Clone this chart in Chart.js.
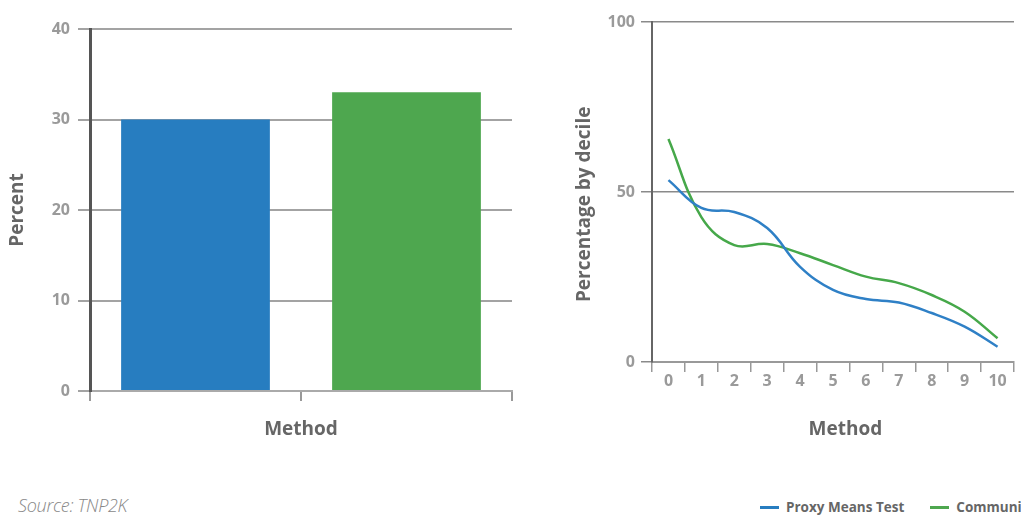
<!DOCTYPE html>
<html>
<head>
<meta charset="utf-8">
<script src="https://cdn.jsdelivr.net/npm/chart.js@4.4.0/dist/chart.umd.min.js"></script>
<style>
  body { margin: 0; width: 1021px; height: 517px; overflow: hidden; background: #fff; position: relative; font-family: "Open Sans", sans-serif; }
  .box { position: absolute; top: 0; }
  #source { position: absolute; left: 18px; top: 493px; font-style: italic; font-weight: 300; font-size: 18px; color: #888; letter-spacing: -0.3px; }
  #legend { position: absolute; left: 760px; top: 498px; white-space: nowrap; font-weight: 700; font-size: 13.5px; color: #666; }
  #legend span.item { display: inline-block; margin-right: 26px; }
  #legend i { display: inline-block; width: 19px; height: 3px; margin-right: 7px; vertical-align: middle; position: relative; top: -1px; }
</style>
</head>
<body>
<div class="box" style="left:0"><canvas id="barChart" width="545" height="460"></canvas></div>
<div class="box" style="left:560px"><canvas id="lineChart" width="461" height="460"></canvas></div>
<div id="source">Source: TNP2K</div>
<div id="legend"></div>

<script>
// data
const methods = ["Proxy Means Test", "Community"];
const methodColors = ["#277dc0", "#4ea74f"];
const percentByMethod = [30, 33];

const deciles = ["0", "1", "2", "3", "4", "5", "6", "7", "8", "9", "10"];
const pmtByDecile = [53.5, 45.3, 44.1, 39.4, 28, 21.2, 18.5, 17.5, 14.4, 10.4, 4.5];
const communityByDecile = [65.6, 42.6, 34.4, 34.7, 32, 28.5, 25.1, 23.2, 19.7, 14.8, 7];

const tickFont = { family: "Open Sans", weight: "bold", size: 16 };
const titleFont = { family: "Open Sans", weight: "bold", size: 19 };
const tickColor = "#9a9a9a";
const titleColor = "#666";

// left: bar chart
new Chart(document.getElementById("barChart"), {
    type: "bar",
    data: {
        labels: methods,
        datasets: [{
            data: percentByMethod,
            backgroundColor: methodColors,
            categoryPercentage: 1,
            barPercentage: 0.705
        }]
    },
    options: {
        responsive: false,
        animation: false,
        layout: { padding: { top: 29, right: 33, left: 0, bottom: 0 } },
        plugins: { legend: { display: false }, tooltip: { enabled: false } },
        scales: {
            x: {
                offset: true,
                grid: { offset: true, drawOnChartArea: false, tickLength: 10, color: "#999", lineWidth: 2 },
                border: { color: "#aaa", width: 2 },
                ticks: { display: false },
                title: { display: true, text: "Method", color: titleColor, font: titleFont, padding: { top: 0, bottom: 19 } },
                afterFit: s => { s.height = 69; }
            },
            y: {
                min: 0,
                max: 40,
                ticks: { stepSize: 10, color: tickColor, font: tickFont, padding: 8 },
                grid: { color: "#a3a3a3", lineWidth: 2, tickLength: 12 },
                border: { color: "#555", width: 3 },
                title: { display: true, text: "Percent", color: titleColor, font: titleFont, padding: { top: 6, bottom: 0 } },
                afterFit: s => { s.width = 90; }
            }
        }
    }
});

// right: line chart by decile
new Chart(document.getElementById("lineChart"), {
    type: "line",
    data: {
        labels: deciles,
        datasets: [
            { label: methods[0], data: pmtByDecile, borderColor: "#2f80c6", borderWidth: 2.5, pointRadius: 0, tension: 0.4, fill: false },
            { label: methods[1], data: communityByDecile, borderColor: "#46a84a", borderWidth: 2.5, pointRadius: 0, tension: 0.4, fill: false }
        ]
    },
    options: {
        responsive: false,
        animation: false,
        layout: { padding: { top: 22, right: 7, left: 0, bottom: 0 } },
        plugins: { legend: { display: false }, tooltip: { enabled: false } },
        scales: {
            x: {
                offset: true,
                grid: { offset: true, drawOnChartArea: false, tickLength: 10, color: "#999", lineWidth: 1.5 },
                border: { color: "#999", width: 2 },
                ticks: { color: tickColor, font: tickFont, padding: 0, maxRotation: 0, autoSkip: false },
                title: { display: true, text: "     Method", color: titleColor, font: titleFont, padding: { top: 0, bottom: 19 } },
                afterFit: s => { s.height = 98; }
            },
            y: {
                min: 0,
                max: 100,
                ticks: { stepSize: 50, color: tickColor, font: tickFont, padding: 6 },
                grid: { color: "#8a8a8a", lineWidth: 1.5, tickLength: 11 },
                border: { color: "#666", width: 2 },
                title: { display: true, text: "Percentage by decile     ", color: titleColor, font: titleFont, padding: { top: 13, bottom: 0 } },
                afterFit: s => { s.width = 92; }
            }
        }
    }
});

// legend below the right chart, cut off at the page edge like the original
const legend = document.getElementById("legend");
methods.forEach((name, i) => {
    const item = document.createElement("span");
    item.className = "item";
    item.innerHTML = '<i style="background:' + methodColors[i] + '"></i>' + name;
    legend.appendChild(item);
});
</script>
</body>
</html>
